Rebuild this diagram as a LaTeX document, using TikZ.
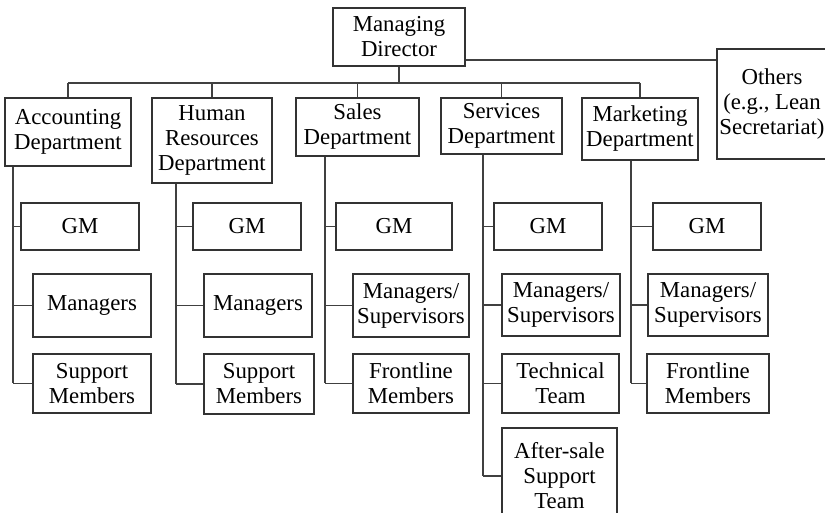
\documentclass[tikz,border=0pt]{standalone}
\usepackage{fontspec}
\setmainfont{Liberation Serif}
\usepackage{tikz}
\usetikzlibrary{positioning}

\newcommand{\orgfont}{\fontsize{11.4}{12.5}\selectfont}

\begin{document}
\begin{tikzpicture}[
    x=0.5pt, y=-0.5pt,
    every node/.style={font=\orgfont},
    unit/.style={draw=black!80, line width=0.8pt, align=center, inner sep=0pt},
    link/.style={draw=black!75, line width=0.8pt}
]
\useasboundingbox (0,0) rectangle (825,513);
\clip (0,0) rectangle (825,513);

% -------- Top: managing director and the side unit --------
\node[unit, minimum width=66pt, minimum height=29pt] (md)  at (399,37)  {Managing\\Director};
\node[unit, minimum width=55pt, minimum height=55pt] (oth) at (772,104) {Others\\(e.g., Lean\\Secretariat)};

% -------- Departments --------
\node[unit, minimum width=63pt,   minimum height=34pt]   (acc)  at (68,132)    {Accounting\\Department};
\node[unit, minimum width=60pt,   minimum height=42.5pt] (hr)   at (212,140.5) {Human\\Resources\\Department};
\node[unit, minimum width=61.5pt, minimum height=29pt]   (sls)  at (357.5,127) {Sales\\Department};
\node[unit, minimum width=60.5pt, minimum height=28pt]   (srv)  at (501.5,126) {Services\\Department};
\node[unit, minimum width=58pt,   minimum height=31pt]   (mkt)  at (640,129)   {Marketing\\Department};

% -------- Accounting staff --------
\node[unit, minimum width=59pt, minimum height=23.5pt] (accgm)  at (80,226.5)  {GM};
\node[unit, minimum width=59pt, minimum height=31.5pt] (accmgr) at (92,305.5)  {Managers};
\node[unit, minimum width=59pt, minimum height=29.5pt] (accsup) at (92,383.5)  {Support\\Members};

% -------- Human resources staff --------
\node[unit, minimum width=54pt, minimum height=23.5pt] (hrgm)  at (247,226.5) {GM};
\node[unit, minimum width=54pt, minimum height=31.5pt] (hrmgr) at (258,305.5) {Managers};
\node[unit, minimum width=55pt, minimum height=30pt]   (hrsup) at (259,384)   {Support\\Members};

% -------- Sales staff --------
\node[unit, minimum width=58pt, minimum height=23.5pt] (slsgm)  at (394,226.5) {GM};
\node[unit, minimum width=58pt, minimum height=31.5pt] (slsmgr) at (411,305.5) {Managers/\\Supervisors};
\node[unit, minimum width=58pt, minimum height=29.5pt] (slsfl)  at (411,383.5) {Frontline\\Members};

% -------- Services staff --------
\node[unit, minimum width=54pt,   minimum height=23.5pt] (srvgm)   at (548,226.5)   {GM};
\node[unit, minimum width=59pt,   minimum height=31pt]   (srvmgr)  at (561,305)     {Managers/\\Supervisors};
\node[unit, minimum width=58.5pt, minimum height=29.5pt] (srvtech) at (560.5,383.5) {Technical\\Team};
\node[unit, minimum width=57.5pt, minimum height=48pt]   (srvaft)  at (559.5,476)   {After-sale\\Support\\Team};

% -------- Marketing staff --------
\node[unit, minimum width=54pt, minimum height=23.5pt] (mktgm)  at (707,226.5) {GM};
\node[unit, minimum width=60pt, minimum height=31pt]   (mktmgr) at (708,305)   {Managers/\\Supervisors};
\node[unit, minimum width=61pt, minimum height=29.5pt] (mktfl)  at (708,383.5) {Frontline\\Members};

% -------- Bus under the director --------
\coordinate (bus) at (0,83);
\draw[link] (md.south) -- (md.south |- bus);
\draw[link] (acc.north |- bus) -- (mkt.north |- bus);
\draw[link] (acc.north |- bus) -- (acc.north);
\draw[link] (hr.north |- bus) -- (hr.north);
\draw[link] (sls.north |- bus) -- (sls.north);
\draw[link] (srv.north |- bus) -- (srv.north);
\draw[link] (mkt.north |- bus) -- (mkt.north);
\draw[link] ([yshift=3.5pt]md.south east) -- ([yshift=3.5pt]md.south east -| oth.west);

% -------- Spines down each department --------
\coordinate (accsp) at (13,0);
\coordinate (hrsp)  at (176,0);
\coordinate (slssp) at (325,0);
\coordinate (srvsp) at (483,0);
\coordinate (mktsp) at (631,0);

\draw[link] (acc.south -| accsp) -- (accsp |- accsup.west);
\draw[link] (accsp |- accgm.west) -- (accgm.west);
\draw[link] (accsp |- accmgr.west) -- (accmgr.west);
\draw[link] (accsp |- accsup.west) -- (accsup.west);

\draw[link] (hr.south -| hrsp) -- (hrsp |- hrsup.west);
\draw[link] (hrsp |- hrgm.west) -- (hrgm.west);
\draw[link] (hrsp |- hrmgr.west) -- (hrmgr.west);
\draw[link] (hrsp |- hrsup.west) -- (hrsup.west);

\draw[link] (sls.south -| slssp) -- (slssp |- slsfl.west);
\draw[link] (slssp |- slsgm.west) -- (slsgm.west);
\draw[link] (slssp |- slsmgr.west) -- (slsmgr.west);
\draw[link] (slssp |- slsfl.west) -- (slsfl.west);

\draw[link] (srv.south -| srvsp) -- (srvsp |- srvaft.west);
\draw[link] (srvsp |- srvgm.west) -- (srvgm.west);
\draw[link] (srvsp |- srvmgr.west) -- (srvmgr.west);
\draw[link] (srvsp |- srvtech.west) -- (srvtech.west);
\draw[link] (srvsp |- srvaft.west) -- (srvaft.west);

\draw[link] (mkt.south -| mktsp) -- (mktsp |- mktfl.west);
\draw[link] (mktsp |- mktgm.west) -- (mktgm.west);
\draw[link] (mktsp |- mktmgr.west) -- (mktmgr.west);
\draw[link] (mktsp |- mktfl.west) -- (mktfl.west);

\end{tikzpicture}
\end{document}
